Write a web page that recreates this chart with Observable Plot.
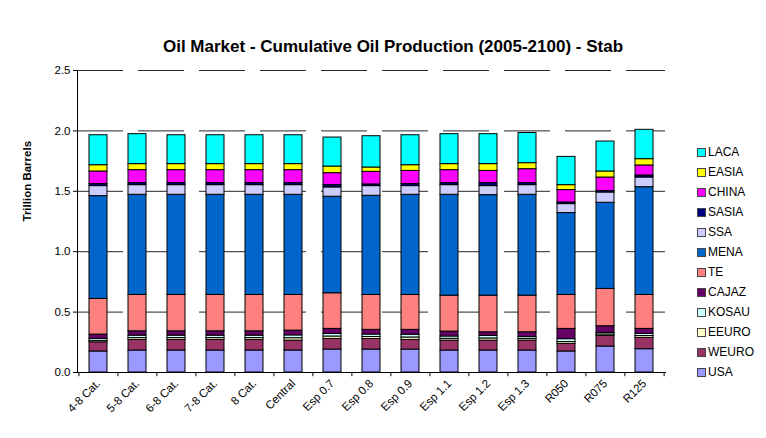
<!DOCTYPE html>
<html>
<head>
<meta charset="utf-8">
<script src="https://cdn.jsdelivr.net/npm/d3@7"></script>
<script src="https://cdn.jsdelivr.net/npm/@observablehq/plot@0.6"></script>
<style>
  html, body { margin: 0; padding: 0; background: #fff; }
  #wrap { position: relative; width: 766px; height: 438px; font-family: "Liberation Sans", Arial, sans-serif; }
  #title { position: absolute; left: 10px; width: 766px; top: 37px; text-align: center; font-weight: bold; font-size: 17px; color: #000; }
  #chart { position: absolute; left: 0; top: 62px; }
  #legend { position: absolute; left: 697px; top: 142px; font-size: 12px; color: #000; }
  .row { height: 20px; display: flex; align-items: center; }
  .sw { width: 7px; height: 7px; border: 1px solid #444; margin-right: 2px; }
</style>
</head>
<body>
<div id="wrap">
  <div id="title">Oil Market - Cumulative Oil Production (2005-2100) - Stab</div>
  <div id="chart"></div>
  <div id="legend"></div>
</div>
<script>
const categories = ["4-8 Cat.", "5-8 Cat.", "6-8 Cat.", "7-8 Cat.", "8 Cat.", "Central", "Esp 0.7", "Esp 0.8", "Esp 0.9", "Esp 1.1", "Esp 1.2", "Esp 1.3", "R050", "R075", "R125"];
const regions = ["USA", "WEURO", "EEURO", "KOSAU", "CAJAZ", "TE", "MENA", "SSA", "SASIA", "CHINA", "EASIA", "LACA"];
const regionColors = ["#9999FF", "#993366", "#FFFFCC", "#CCFFFF", "#660066", "#FF8080", "#0066CC", "#CCCCFF", "#000080", "#FF00FF", "#FFFF00", "#00FFFF"];

const USA   = [0.174, 0.182, 0.182, 0.182, 0.182, 0.182, 0.190, 0.190, 0.190, 0.182, 0.182, 0.182, 0.174, 0.215, 0.193];
const WEURO = [0.076, 0.088, 0.088, 0.088, 0.088, 0.082, 0.088, 0.088, 0.080, 0.082, 0.082, 0.082, 0.063, 0.088, 0.094];
const EEURO = [0.012, 0.015, 0.015, 0.015, 0.015, 0.020, 0.020, 0.016, 0.020, 0.015, 0.018, 0.013, 0.015, 0.012, 0.015];
const KOSAU = [0.016, 0.020, 0.020, 0.020, 0.020, 0.023, 0.022, 0.020, 0.023, 0.019, 0.021, 0.016, 0.024, 0.013, 0.018];
const CAJAZ = [0.036, 0.036, 0.036, 0.036, 0.036, 0.040, 0.041, 0.039, 0.040, 0.041, 0.030, 0.040, 0.085, 0.055, 0.041];
const TE    = [0.295, 0.301, 0.301, 0.301, 0.301, 0.295, 0.295, 0.289, 0.289, 0.297, 0.303, 0.303, 0.281, 0.309, 0.281];
const MENA  = [0.851, 0.829, 0.829, 0.829, 0.829, 0.829, 0.799, 0.821, 0.829, 0.835, 0.832, 0.835, 0.678, 0.713, 0.892];
const SSA   = [0.083, 0.080, 0.080, 0.080, 0.080, 0.080, 0.077, 0.080, 0.072, 0.080, 0.075, 0.080, 0.074, 0.085, 0.080];
const SASIA = [0.017, 0.017, 0.017, 0.017, 0.017, 0.017, 0.019, 0.014, 0.017, 0.017, 0.025, 0.017, 0.014, 0.012, 0.017];
const CHINA = [0.104, 0.107, 0.107, 0.107, 0.107, 0.107, 0.099, 0.104, 0.109, 0.107, 0.101, 0.115, 0.102, 0.112, 0.083];
const EASIA = [0.052, 0.050, 0.050, 0.050, 0.050, 0.050, 0.055, 0.036, 0.047, 0.050, 0.056, 0.050, 0.041, 0.050, 0.052];
const LACA  = [0.248, 0.248, 0.239, 0.239, 0.239, 0.239, 0.240, 0.259, 0.248, 0.248, 0.248, 0.250, 0.234, 0.248, 0.243];

const yTicks = [0, 0.5, 1.0, 1.5, 2.0, 2.5];
const yLabel = "Trillion Barrels";

const series = {USA, WEURO, EEURO, KOSAU, CAJAZ, TE, MENA, SSA, SASIA, CHINA, EASIA, LACA};
const data = regions.flatMap(r => categories.map((c, i) => ({category: c, region: r, value: series[r][i]})));

const W = 766, H = 376, ML = 77, MR = 101;
const half = (W - ML - MR) / categories.length / 2;

const chart = Plot.plot({
  width: W,
  height: H,
  marginLeft: ML,
  marginRight: MR,
  marginTop: 8,
  marginBottom: 66,
  style: {fontFamily: "'Liberation Sans', Arial, sans-serif", fontSize: "11px", background: "white", color: "black"},
  x: {domain: categories, paddingInner: 0.55, paddingOuter: 0.275, label: null},
  y: {domain: [0, 2.5], label: null},
  color: {domain: regions, range: regionColors},
  marks: [
    Plot.ruleY(yTicks.filter(d => d > 0), {stroke: "#000", strokeOpacity: 0.85, strokeDasharray: "46,15"}),
    Plot.barY(data, {x: "category", y: "value", fill: "region", stroke: "black", strokeWidth: 1, order: regions}),
    Plot.axisY({ticks: yTicks, tickFormat: d => d.toFixed(1), tickSize: 4, tickPadding: 3, label: null, fontSize: 11.5}),
    Plot.frame({anchor: "left", stroke: "black"}),
    Plot.frame({anchor: "bottom", stroke: "black"}),
    Plot.ruleX(categories, {x: d => d, y1: 0, y2: -0.035, dx: -half, stroke: "black"}),
    Plot.ruleX(categories.slice(-1), {x: d => d, y1: 0, y2: -0.035, dx: half, stroke: "black"}),
    Plot.axisX({tickRotate: -45, tickSize: 0, tickPadding: 9, label: null, fontSize: 11.5}),
    Plot.text([yLabel], {frameAnchor: "left", dx: -50, rotate: -90, fontWeight: "bold", fontSize: 11.5})
  ]
});
document.getElementById("chart").appendChild(chart);

const legend = document.getElementById("legend");
for (let i = regions.length - 1; i >= 0; i--) {
  const row = document.createElement("div");
  row.className = "row";
  const sw = document.createElement("div");
  sw.className = "sw";
  sw.style.background = regionColors[i];
  const lab = document.createElement("span");
  lab.textContent = regions[i];
  row.appendChild(sw);
  row.appendChild(lab);
  legend.appendChild(row);
}
</script>
</body>
</html>
